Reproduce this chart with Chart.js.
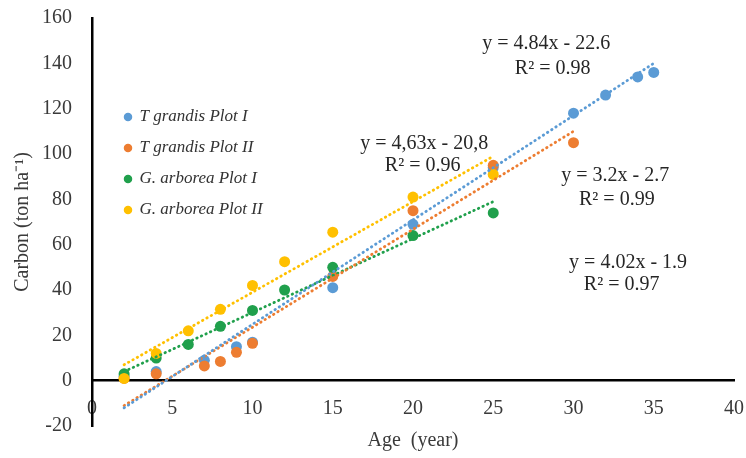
<!DOCTYPE html>
<html>
<head>
<meta charset="utf-8">
<script src="https://cdn.jsdelivr.net/npm/chart.js@4.4.1/dist/chart.umd.min.js"></script>
<style>
  html, body { margin: 0; padding: 0; background: #fff; }
</style>
</head>
<body>
<canvas id="carbonChart" width="746" height="458"></canvas>
<script>
// series: age (year) vs carbon (ton/ha)
const seriesNames = ["T grandis Plot I", "T grandis Plot II", "G. arborea Plot I", "G. arborea Plot II"];
const seriesColors = ["#5B9BD5", "#ED7D31", "#20A04C", "#FFC000"];

const ageTgI = [2, 4, 7, 9, 10, 15, 20, 25, 30, 32, 34, 35];
const carbonTgI = [2, 4, 9, 15, 17, 41, 69, 94, 118, 126, 134, 136];

const ageTgII = [2, 4, 7, 8, 9, 10, 15, 20, 25, 30];
const carbonTgII = [1, 3, 6.5, 8.5, 12.5, 16.5, 46, 75, 95, 105];

const ageGaI = [2, 4, 6, 8, 10, 12, 15, 20, 25];
const carbonGaI = [3, 10, 16, 24, 31, 40, 50, 64, 74];

const ageGaII = [2, 4, 6, 8, 10, 12, 15, 20, 25];
const carbonGaII = [1, 12, 22, 31.5, 42, 52.5, 65.5, 81, 91];

// trend line ends as they appear on the figure
const trendAge = [[2, 35], [2, 30], [2, 25], [2, 25]];
const trendCarbon = [[-12, 140], [-11, 110], [4, 79], [7, 99]];

const equations = ["y = 4.84x - 22.6", "y = 4,63x - 20,8", "y = 3.2x - 2.7", "y = 4.02x - 1.9"];
const rSquared = ["R\u00B2 = 0.98", "R\u00B2 = 0.96", "R\u00B2 = 0.99", "R\u00B2 = 0.97"];

// where each equation / R2 pair sits, in axis units [eqX, eqY, r2X, r2Y]
const notePlace = [
  [28.3, 148.5, 28.7, 137.5],
  [20.7, 104.7, 20.6, 95],
  [32.6, 90.5, 32.7, 80],
  [33.4, 52, 33.0, 42.2]
];

const ages = [ageTgI, ageTgII, ageGaI, ageGaII];
const carbons = [carbonTgI, carbonTgII, carbonGaI, carbonGaII];

const serif = '"Liberation Serif", "Times New Roman", serif';
Chart.defaults.font.family = serif;
Chart.defaults.color = '#3a3a3a';

const pointSets = seriesNames.map((name, i) => ({
    label: name,
    data: ages[i].map((a, k) => ({ x: a, y: carbons[i][k] })),
    backgroundColor: seriesColors[i],
    borderWidth: 0,
    pointRadius: 5.5,
    pointStyle: 'circle',
    order: 4 - i
}));

const trendSets = seriesNames.map((name, i) => ({
    label: name + ' trend',
    isTrend: true,
    data: trendAge[i].map((a, k) => ({ x: a, y: trendCarbon[i][k] })),
    showLine: true,
    borderColor: seriesColors[i],
    borderWidth: 2.8,
    borderDash: [0.5, 4.5],
    borderCapStyle: 'round',
    pointRadius: 0,
    order: 0
}));

// equations and R2 next to the trend lines
const trendNotes = {
    id: 'trendNotes',
    afterDatasetsDraw(chart) {
        const { ctx, scales: { x, y } } = chart;
        ctx.save();
        ctx.font = '20px ' + serif;
        ctx.fillStyle = '#262626';
        ctx.textAlign = 'center';
        ctx.textBaseline = 'middle';
        notePlace.forEach((p, i) => {
            ctx.fillText(equations[i], x.getPixelForValue(p[0]), y.getPixelForValue(p[1]));
            ctx.fillText(rSquared[i], x.getPixelForValue(p[2]), y.getPixelForValue(p[3]));
        });
        ctx.restore();
    }
};

// legend sits inside the plot, upper left
const legendSpot = {
    id: 'legendSpot',
    afterLayout(chart) {
        const lg = chart.legend;
        if (!lg) return;
        lg.left = 111;
        lg.top = 94.5;
        lg.right = lg.left + lg.width;
        lg.bottom = lg.top + lg.height;
    }
};

new Chart(document.getElementById('carbonChart'), {
    type: 'scatter',
    data: { datasets: pointSets.concat(trendSets) },
    options: {
        responsive: false,
        animation: false,
        layout: { padding: { top: 18, right: 12, left: 0, bottom: 0 } },
        scales: {
            x: {
                type: 'linear',
                position: { y: 0 },
                min: 0,
                max: 40,
                ticks: { stepSize: 5, padding: 0, font: { size: 20 } },
                // invisible tick marks give the gap between axis and labels
                grid: { color: 'transparent', drawTicks: true, tickLength: 16 },
                border: { display: true, color: '#000', width: 2.5 }
            },
            y: {
                type: 'linear',
                position: 'left',
                min: -20,
                max: 160,
                ticks: { stepSize: 20, padding: 0, font: { size: 20 } },
                grid: { color: 'transparent', drawTicks: true, tickLength: 20 },
                border: { display: true, color: '#000', width: 2.5 },
                title: {
                    display: true,
                    text: 'Carbon (ton ha\u207B\u00B9)',
                    font: { size: 20 },
                    padding: { top: 11, bottom: 0 }
                },
                afterFit: (scale) => { scale.width = 92; }
            }
        },
        plugins: {
            legend: {
                position: 'chartArea',
                align: 'start',
                labels: {
                    usePointStyle: true,
                    boxWidth: 6,
                    boxHeight: 6,
                    padding: 14,
                    color: '#333',
                    font: { size: 17, style: 'italic' },
                    filter: (item, data) => !data.datasets[item.datasetIndex].isTrend,
                    sort: (a, b) => a.datasetIndex - b.datasetIndex
                }
            },
            title: {
                display: true,
                position: 'bottom',
                fullSize: false,
                text: 'Age  (year)',
                color: '#3a3a3a',
                font: { size: 20, weight: 'normal' },
                padding: { top: 3, bottom: 5 }
            },
            tooltip: { enabled: false }
        }
    },
    plugins: [trendNotes, legendSpot]
});
</script>
</body>
</html>
